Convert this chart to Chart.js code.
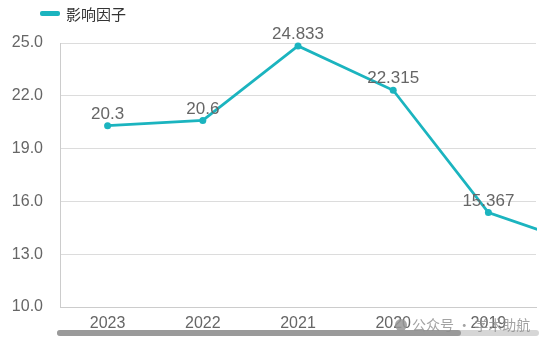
<!DOCTYPE html>
<html>
<head>
<meta charset="utf-8">
<script src="https://cdn.jsdelivr.net/npm/chart.js@4.4.0/dist/chart.umd.min.js"></script>
<style>
  html, body { margin: 0; padding: 0; background: #fff; }
  #wrap { position: relative; width: 559px; height: 344px; }
  #legend {
    position: absolute; left: 40px; top: 3px;
    font: 15px "Noto Sans CJK SC", sans-serif; color: #333;
    display: flex; align-items: center;
  }
  #legend span.mark { display: inline-block; width: 20px; height: 5px; border-radius: 2px; background: #1bb4bf; margin-right: 6px; }
</style>
</head>
<body>
<div id="wrap">
  <canvas id="chart" width="559" height="344"></canvas>
  <div id="legend"><span class="mark"></span>影响因子</div>
</div>
<script>
const years = ["2023", "2022", "2021", "2020", "2019", "2018"];
const impactFactor = [20.3, 20.6, 24.833, 22.315, 15.367, 13.5];
const shownLabels = ["20.3", "20.6", "24.833", "22.315", "15.367", ""];

const lineColor = "#1bb4bf";
const fontFamily = '"Liberation Sans", Arial, "Noto Sans CJK SC", sans-serif';

// value labels above each point
const valueLabels = {
  id: "valueLabels",
  afterDatasetsDraw(chart) {
    const ctx = chart.ctx;
    const meta = chart.getDatasetMeta(0);
    const area = chart.chartArea;
    ctx.save();
    ctx.font = "17px " + fontFamily;
    ctx.fillStyle = "#666";
    ctx.textAlign = "center";
    ctx.textBaseline = "bottom";
    meta.data.forEach((pt, i) => {
      if (pt.x < area.left || pt.x > area.right || !shownLabels[i]) return;
      ctx.fillText(shownLabels[i], pt.x, pt.y - 3);
    });
    ctx.restore();
  }
};

// bottom slider bar + watermark
const extras = {
  id: "extras",
  afterDraw(chart) {
    const ctx = chart.ctx;
    ctx.save();
    ctx.lineCap = "round";
    ctx.lineWidth = 6;
    ctx.strokeStyle = "#d6d6d6";
    ctx.beginPath(); ctx.moveTo(60, 333); ctx.lineTo(536, 333); ctx.stroke();
    ctx.strokeStyle = "#9a9a9a";
    ctx.beginPath(); ctx.moveTo(60, 333); ctx.lineTo(458, 333); ctx.stroke();

    ctx.fillStyle = "rgba(150,150,150,0.85)";
    ctx.beginPath(); ctx.arc(401, 325, 6, 0, Math.PI * 2); ctx.fill();
    ctx.font = '14px "Noto Sans CJK SC", sans-serif';
    ctx.fillStyle = "rgba(140,140,140,0.8)";
    ctx.textBaseline = "middle";
    ctx.fillText("公众号 · 学术助航", 412, 325);
    ctx.restore();
  }
};

new Chart(document.getElementById("chart"), {
  type: "line",
  data: {
    labels: years,
    datasets: [{
      label: "影响因子",
      data: impactFactor,
      borderColor: lineColor,
      backgroundColor: lineColor,
      borderWidth: 2.8,
      pointRadius: 3.5,
      pointBackgroundColor: lineColor,
      pointBorderWidth: 0,
      tension: 0,
      clip: { left: 0, top: 5, right: 1, bottom: 0 }
    }]
  },
  options: {
    responsive: false,
    animation: false,
    layout: { padding: { top: 43, right: 23, bottom: 12, left: 0 } },
    plugins: {
      legend: { display: false },
      tooltip: { enabled: false }
    },
    scales: {
      x: {
        offset: true,
        // only the first five years fit in view, the rest runs off to the right
        afterDataLimits(scale) { scale.max = 4; },
        grid: { display: false, drawTicks: true, tickLength: 5, color: "#ccc" },
        border: { color: "#ccc" },
        ticks: { color: "#666", font: { size: 16, family: fontFamily }, padding: 2 },
        afterFit(scale) { scale.height = 25; }
      },
      y: {
        min: 10,
        max: 25,
        ticks: {
          stepSize: 3,
          color: "#666",
          padding: 17,
          font: { size: 16, family: fontFamily },
          callback: v => Number(v).toFixed(1)
        },
        grid: { color: "#dcdcdc", drawTicks: false },
        border: { color: "#ccc" },
        afterFit(scale) { scale.width = 60; }
      }
    }
  },
  plugins: [valueLabels, extras]
});
</script>
</body>
</html>
